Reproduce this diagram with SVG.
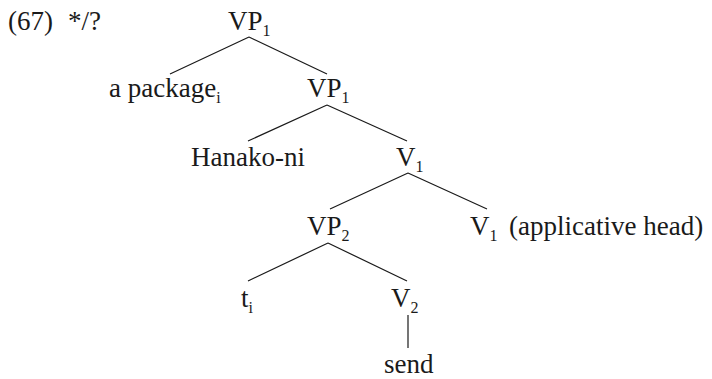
<svg xmlns="http://www.w3.org/2000/svg" width="712" height="379" viewBox="0 0 712 379">
  <style>
    text { font-family: "Liberation Serif", "Times New Roman", serif; font-size: 27px; fill: #1a1a1a; }
    .sub { font-size: 16px; }
    .edge { stroke: #1a1a1a; stroke-width: 1.2; fill: none; }
  </style>
  <rect width="712" height="379" fill="#ffffff"/>

  <!-- example number and judgement -->
  <g id="label">
    <text x="8" y="30">(67)</text>
    <text x="68" y="30">*/?</text>
  </g>

  <!-- tree branches -->
  <g id="connectors">
    <path class="edge" d="M249,37 L170,74 M249,37 L327,74"/>
    <path class="edge" d="M327,105 L248,141 M327,105 L407,141"/>
    <path class="edge" d="M408,173 L330,209 M408,173 L487,209"/>
    <path class="edge" d="M328,243 L248,281 M328,243 L407,281"/>
    <path class="edge" d="M408,315 L408,348"/>
  </g>

  <g id="vp1-top"><text x="228" y="30">VP<tspan class="sub" dy="6">1</tspan></text></g>
  <g id="a-package"><text x="109" y="97">a package<tspan class="sub" dy="6">i</tspan></text></g>
  <g id="vp1-lower"><text x="307" y="97">VP<tspan class="sub" dy="6">1</tspan></text></g>
  <g id="hanako-ni"><text x="191" y="166">Hanako-ni</text></g>
  <g id="v1"><text x="396" y="166">V<tspan class="sub" dy="6">1</tspan></text></g>
  <g id="vp2"><text x="307" y="235">VP<tspan class="sub" dy="6">2</tspan></text></g>
  <g id="v1-applicative"><text x="470" y="235">V<tspan class="sub" dy="6">1</tspan><tspan x="509" dy="-6">(applicative head)</tspan></text></g>
  <g id="trace"><text x="241" y="307">t<tspan class="sub" dy="6">i</tspan></text></g>
  <g id="v2"><text x="391" y="307">V<tspan class="sub" dy="6">2</tspan></text></g>
  <g id="send"><text x="384" y="373">send</text></g>
</svg>
